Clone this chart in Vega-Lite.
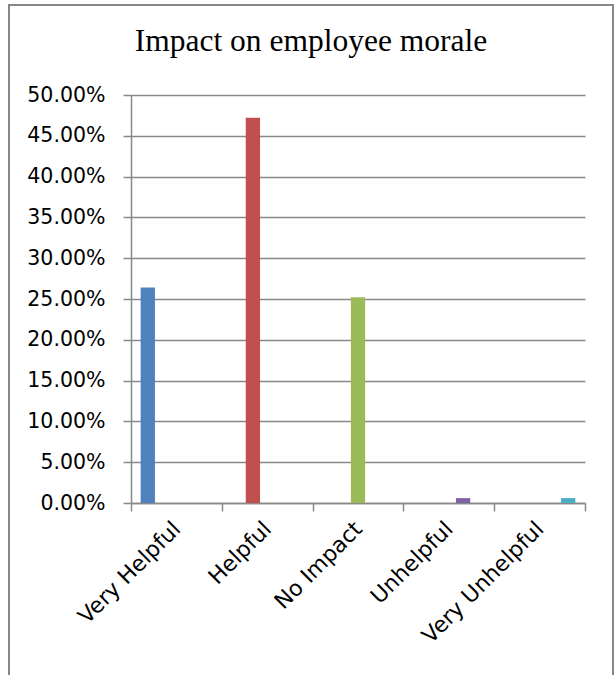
{
  "$schema": "https://vega.github.io/schema/vega-lite/v6.json",
  "width": 604,
  "height": 680,
  "autosize": {"type": "none"},
  "padding": {"left": 9, "top": 5, "right": 3, "bottom": -10},
  "title": {
    "text": "Impact on employee morale",
    "font": "Liberation Serif",
    "fontSize": 31.5,
    "fontWeight": "normal",
    "color": "#000000",
    "anchor": "middle",
    "frame": "group",
    "baseline": "alphabetic",
    "offset": -77
  },
  "data": {
    "values": [
      {"response": "Very Helpful", "share": 0.264},
      {"response": "Helpful", "share": 0.472},
      {"response": "No Impact", "share": 0.252},
      {"response": "Unhelpful", "share": 0.006},
      {"response": "Very Unhelpful", "share": 0.006}
    ]
  },
  "mark": {"type": "bar"},
  "encoding": {
    "x": {
      "field": "response",
      "type": "nominal",
      "sort": ["Very Helpful", "Helpful", "No Impact", "Unhelpful", "Very Unhelpful"],
      "scale": {"range": [122, 576], "paddingInner": 0, "paddingOuter": 0},
      "axis": {
        "title": null,
        "orient": "bottom",
        "offset": -182,
        "grid": false,
        "tickBand": "extent",
        "tickSize": 8,
        "tickColor": "#898989",
        "tickWidth": 1.5,
        "domainColor": "#898989",
        "domainWidth": 1.5,
        "labelAngle": -45,
        "labelAlign": "right",
        "labelBaseline": "middle",
        "labelPadding": 14,
        "labelFont": "DejaVu Sans",
        "labelFontSize": 22,
        "labelColor": "#000000",
        "labelLimit": 0
      }
    },
    "xOffset": {
      "field": "response",
      "type": "nominal",
      "sort": ["Very Helpful", "Helpful", "No Impact", "Unhelpful", "Very Unhelpful"],
      "scale": {"paddingInner": 0, "paddingOuter": 0.675}
    },
    "y": {
      "field": "share",
      "type": "quantitative",
      "scale": {"domain": [0, 0.5], "range": [498, 90], "nice": false, "zero": true},
      "axis": {
        "title": null,
        "offset": -122,
        "values": [0, 0.05, 0.1, 0.15, 0.2, 0.25, 0.3, 0.35, 0.4, 0.45, 0.5],
        "format": ".2%",
        "grid": true,
        "gridColor": "#898989",
        "gridWidth": 1.5,
        "tickSize": 8,
        "tickColor": "#898989",
        "tickWidth": 1.5,
        "domainColor": "#898989",
        "domainWidth": 1.5,
        "labelPadding": 18,
        "labelFont": "DejaVu Sans",
        "labelFontSize": 20.5,
        "labelColor": "#000000"
      }
    },
    "color": {
      "field": "response",
      "type": "nominal",
      "sort": ["Very Helpful", "Helpful", "No Impact", "Unhelpful", "Very Unhelpful"],
      "scale": {"range": ["#4F81BD", "#C0504D", "#9BBB59", "#8064A2", "#4BACC6"]},
      "legend": null
    }
  },
  "config": {
    "view": {"stroke": "#868686", "strokeWidth": 2}
  }
}
